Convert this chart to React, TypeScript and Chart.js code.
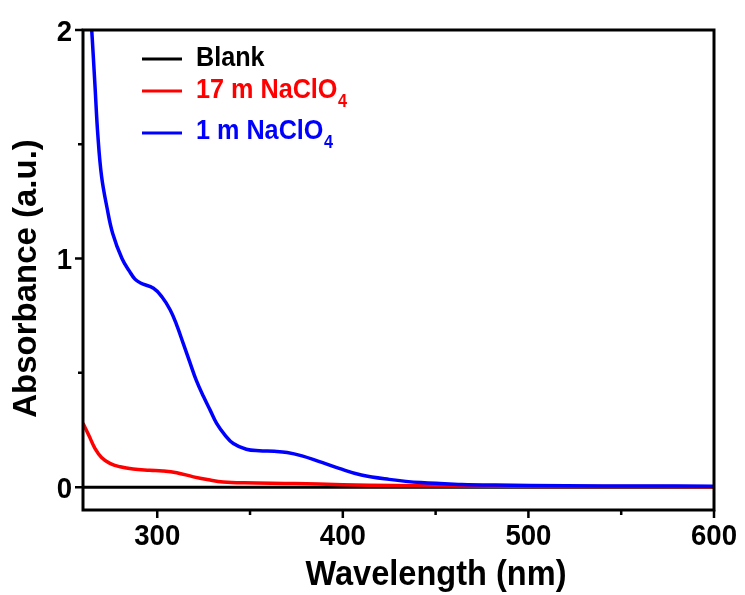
import React, { useEffect, useRef } from "react";
import { Chart, registerables } from "chart.js";

Chart.register(...registerables);

// ---- data ----
const blueWavelength = [260, 262, 265, 266.5, 268, 270, 273, 276, 281, 285, 288, 291, 298, 302.5, 307, 310.5, 314, 317.5, 321, 325, 328.5, 332, 336.5, 341, 348, 355, 363, 370, 378, 387, 398, 410, 425, 442, 464, 482, 520, 560, 600];
const blueAbs = [2.7, 2.36, 1.96, 1.75, 1.54, 1.36, 1.22, 1.11, 1.0, 0.945, 0.91, 0.893, 0.87, 0.833, 0.775, 0.709, 0.629, 0.548, 0.468, 0.395, 0.337, 0.279, 0.228, 0.191, 0.166, 0.159, 0.157, 0.152, 0.137, 0.113, 0.082, 0.053, 0.034, 0.02, 0.012, 0.009, 0.006, 0.005, 0.004];

const redWavelength = [260, 263.5, 266.5, 270, 274.5, 280, 287, 296, 303, 310.5, 319.5, 328.5, 335.5, 347, 374, 400, 428, 482, 540, 600];
const redAbs = [0.28, 0.22, 0.169, 0.13, 0.104, 0.089, 0.079, 0.074, 0.071, 0.063, 0.045, 0.031, 0.023, 0.019, 0.016, 0.011, 0.007, 0.004, 0.003, 0.002];

const blankWavelength = [260, 600];
const blankAbs = [0, 0];

const xMajorTicks = [300, 400, 500, 600];
const xMinorTicks = [350, 450, 550];
const yMajorTicks = [0, 1, 2];
const yMinorTicks = [0.5, 1.5];

const seriesNames = ["Blank", "17 m NaClO", "1 m NaClO"];
const seriesSubscripts = ["", "4", "4"];
const seriesColors = ["#000000", "#ff0000", "#0000ff"];

const xTitle = "Wavelength (nm)";
const yTitle = "Absorbance (a.u.)";

const FONT = '"Liberation Sans", Arial, Helvetica, sans-serif';

function toPoints(xs: number[], ys: number[]) {
  return xs.map((x, i) => ({ x, y: ys[i] }));
}

function drawText(
  ctx: CanvasRenderingContext2D,
  text: string,
  x: number,
  y: number,
  size: number,
  color: string,
  sx: number,
  align: CanvasTextAlign,
  rot = 0
) {
  ctx.save();
  ctx.translate(x, y);
  if (rot) ctx.rotate(rot);
  ctx.scale(sx, 1);
  ctx.font = `bold ${size}px ${FONT}`;
  ctx.fillStyle = color;
  ctx.textAlign = align;
  ctx.textBaseline = "alphabetic";
  ctx.fillText(text, 0, 0);
  ctx.restore();
}

const decorPlugin = {
  id: "decor",
  afterDatasetsDraw(chart: any) {
    const ctx: CanvasRenderingContext2D = chart.ctx;
    const a = chart.chartArea;
    const xs = chart.scales.x;
    const ys = chart.scales.y;
    ctx.save();
    // frame
    ctx.strokeStyle = "#000";
    ctx.lineWidth = 3;
    ctx.strokeRect(a.left, a.top, a.right - a.left, a.bottom - a.top);
    // ticks
    ctx.lineWidth = 2.5;
    ctx.beginPath();
    xMajorTicks.forEach((v) => {
      const px = xs.getPixelForValue(v);
      ctx.moveTo(px, a.bottom);
      ctx.lineTo(px, a.bottom + 8);
    });
    xMinorTicks.forEach((v) => {
      const px = xs.getPixelForValue(v);
      ctx.moveTo(px, a.bottom);
      ctx.lineTo(px, a.bottom + 5);
    });
    yMajorTicks.forEach((v) => {
      const py = ys.getPixelForValue(v);
      ctx.moveTo(a.left, py);
      ctx.lineTo(a.left - 8, py);
    });
    yMinorTicks.forEach((v) => {
      const py = ys.getPixelForValue(v);
      ctx.moveTo(a.left, py);
      ctx.lineTo(a.left - 5, py);
    });
    ctx.stroke();

    // tick labels
    xMajorTicks.forEach((v) => {
      const px = xs.getPixelForValue(v);
      drawText(ctx, String(v), px, a.bottom + 35, 30, "#000", 0.92, "center");
    });
    yMajorTicks.forEach((v) => {
      const py = ys.getPixelForValue(v);
      drawText(ctx, String(v), a.left - 11, py + 10.7, 30, "#000", 0.92, "right");
    });

    // axis titles
    drawText(ctx, xTitle, 436, 585, 35, "#000", 0.93, "center");
    drawText(ctx, yTitle, 36, 278.5, 33, "#000", 1.0, "center", -Math.PI / 2);

    // legend
    const lineYs = [59, 91, 133];
    const textYs = [65.5, 98, 139];
    seriesNames.forEach((name, i) => {
      ctx.strokeStyle = seriesColors[i];
      ctx.lineWidth = 3;
      ctx.beginPath();
      ctx.moveTo(142, lineYs[i]);
      ctx.lineTo(182, lineYs[i]);
      ctx.stroke();
      const sx = 0.9;
      drawText(ctx, name, 196, textYs[i], 28, seriesColors[i], sx, "left");
      if (seriesSubscripts[i]) {
        ctx.font = `bold 28px ${FONT}`;
        const w = ctx.measureText(name).width * sx;
        drawText(ctx, seriesSubscripts[i], 196 + w + 0.5, textYs[i] + 9, 18, seriesColors[i], sx, "left");
      }
    });
    ctx.restore();
  },
};

export default function App() {
  const canvasRef = useRef<HTMLCanvasElement | null>(null);

  useEffect(() => {
    document.body.style.margin = "0";
    const canvas = canvasRef.current;
    if (!canvas) return;
    const chart = new Chart(canvas, {
      type: "line",
      data: {
        datasets: [
          {
            label: seriesNames[0],
            data: toPoints(blankWavelength, blankAbs),
            borderColor: seriesColors[0],
            borderWidth: 3,
            pointRadius: 0,
            order: 3,
            clip: 0,
          },
          {
            label: seriesNames[1] + "4",
            data: toPoints(redWavelength, redAbs),
            borderColor: seriesColors[1],
            borderWidth: 3.5,
            pointRadius: 0,
            tension: 0.4,
            order: 2,
            clip: 0,
          },
          {
            label: seriesNames[2] + "4",
            data: toPoints(blueWavelength, blueAbs),
            borderColor: seriesColors[2],
            borderWidth: 3.5,
            pointRadius: 0,
            tension: 0.4,
            order: 1,
            clip: 0,
          },
        ],
      },
      options: {
        animation: false,
        responsive: false,
        devicePixelRatio: 1,
        layout: { padding: { left: 0, top: 30, right: 31, bottom: 0 } },
        plugins: {
          legend: { display: false },
          tooltip: { enabled: false },
          title: { display: false },
        },
        scales: {
          x: {
            type: "linear",
            min: 260,
            max: 600,
            grid: { display: false },
            border: { display: false },
            ticks: { display: false },
            afterFit: (s: any) => {
              s.height = 85;
            },
          },
          y: {
            type: "linear",
            min: -0.1,
            max: 2,
            grid: { display: false },
            border: { display: false },
            ticks: { display: false },
            afterFit: (s: any) => {
              s.width = 83;
            },
          },
        },
      },
      plugins: [decorPlugin],
    });
    return () => chart.destroy();
  }, []);

  return (
    <div style={{ width: 745, height: 595, background: "#fff" }}>
      <canvas ref={canvasRef} width={745} height={595} />
    </div>
  );
}
